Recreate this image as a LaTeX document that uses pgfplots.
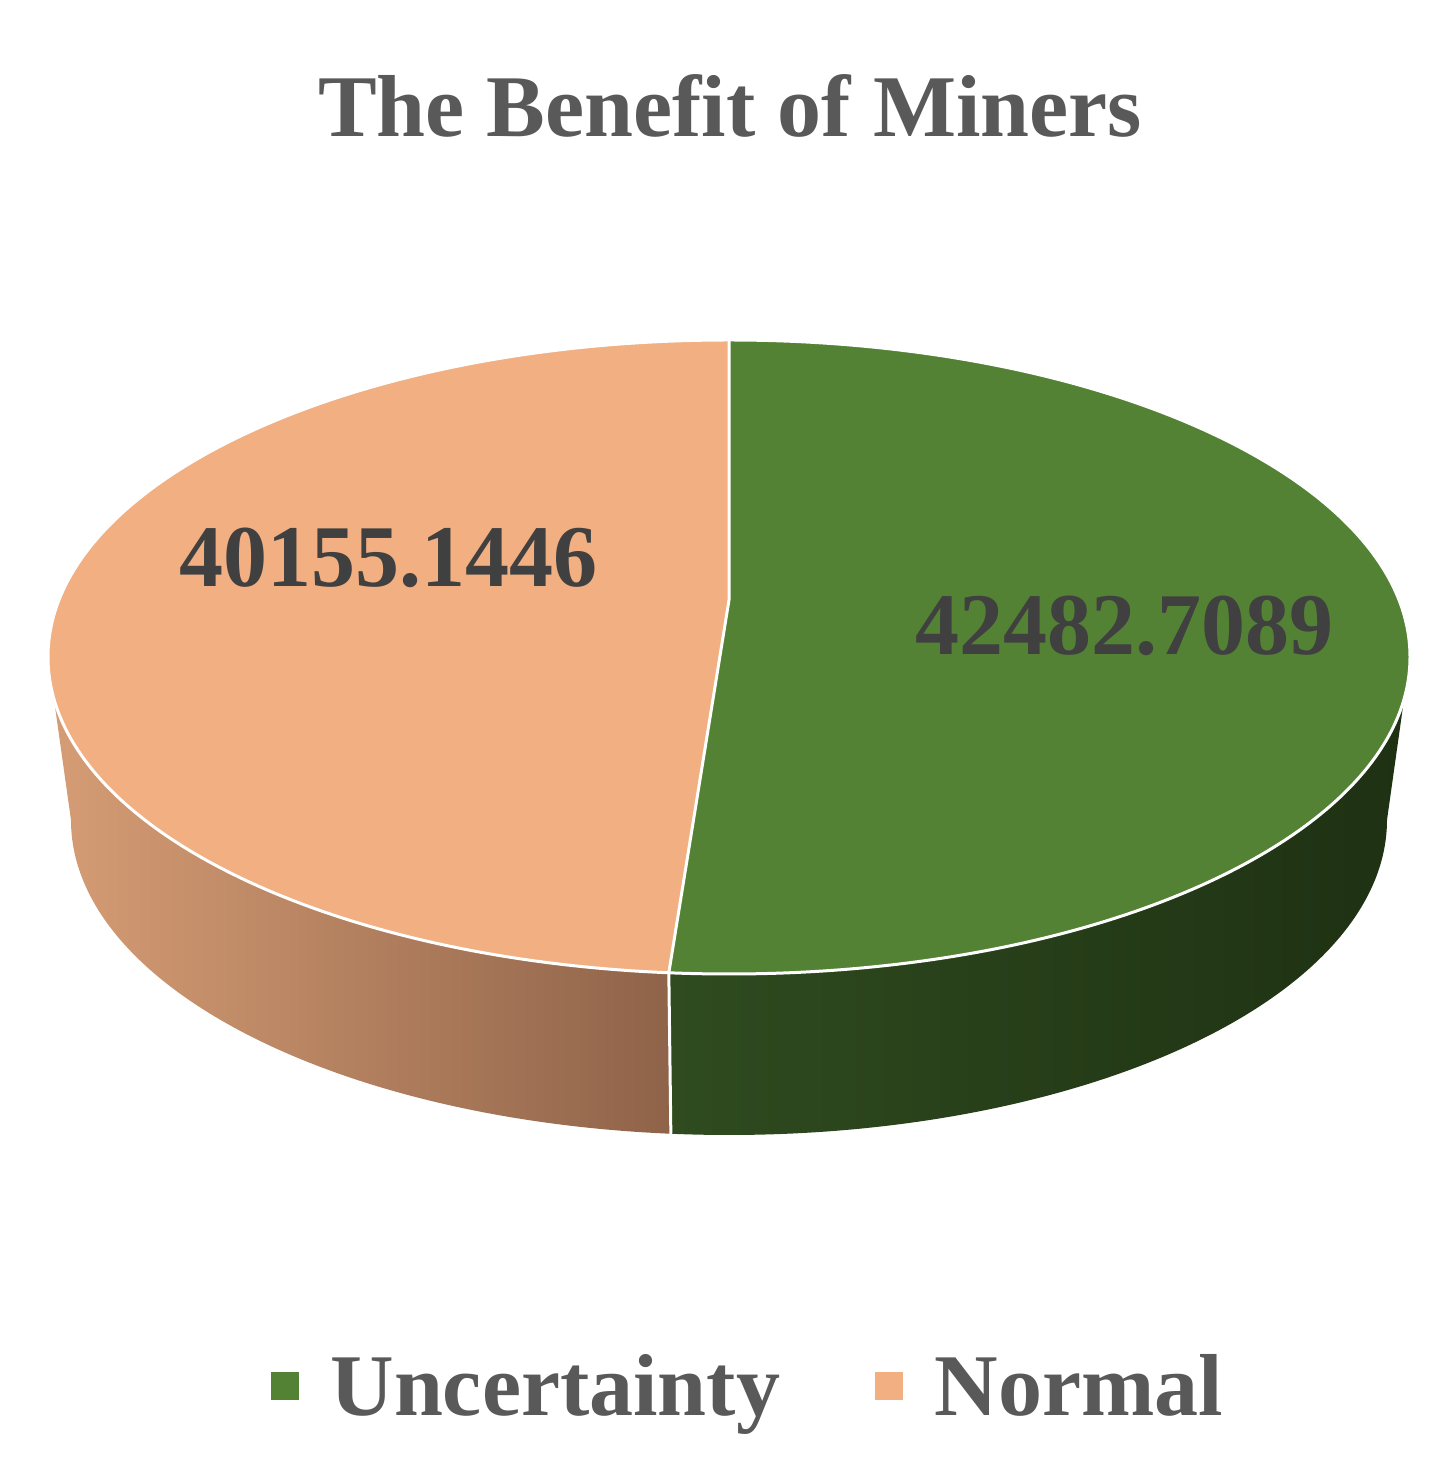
\documentclass[border=0pt]{standalone}
\usepackage{pgfplots}
\pgfplotsset{compat=1.18}
\usepackage{fontspec}
\setmainfont{Liberation Serif}
\definecolor{GreenTop}{HTML}{548235}
\definecolor{OrangeTop}{HTML}{F1AF82}
\definecolor{OrangeSideL}{HTML}{D69D75}
\definecolor{OrangeSideR}{HTML}{8F6349}
\definecolor{GreenSideL}{HTML}{2F4B1F}
\definecolor{GreenSideM}{HTML}{223716}
\definecolor{GreenSideR}{HTML}{1E3113}
\definecolor{TitleGray}{HTML}{595959}
\definecolor{LabelGray}{HTML}{404040}
% values of the two slices
\def\valU{42482.7089}
\def\valN{40155.1446}
% geometry (pt): top ellipse, bottom ellipse, pie centre on top face
\def\cx{729}\def\cy{811}\def\rx{681}\def\ry{317}
\def\bcy{648}\def\brx{658}\def\bry{315}
\def\pcy{868}
\edef\split{\fpeval{90-360*\valU/(\valU+\valN)}}
\edef\splitB{\fpeval{\split+360}}
\edef\xT{\fpeval{\cx+\rx*cosd(\split)}}
\edef\yT{\fpeval{\cy+\ry*sind(\split)}}
\edef\xB{\fpeval{\cx+\brx*cosd(\split)}}
\edef\yB{\fpeval{\bcy+\bry*sind(\split)}}
\edef\xL{\fpeval{\cx-\rx}}\edef\xR{\fpeval{\cx+\rx}}
\edef\bxR{\fpeval{\cx+\brx}}
\edef\ytop{\fpeval{\cy+\ry}}
\begin{document}
\begin{tikzpicture}
\begin{axis}[
  x=1pt,y=1pt,xmin=0,xmax=1445,ymin=0,ymax=1468,
  hide axis,clip=false,
  legend style={at={(axis cs:748,82)},anchor=center,draw=none,fill=none,
    legend columns=2,font=\fontsize{88}{100}\selectfont\bfseries,text=TitleGray,
    /tikz/every odd column/.append style={column sep=30pt},
    /tikz/every even column/.append style={column sep=93pt}},
  legend image code/.code={\fill[#1] (0pt,-13.5pt) rectangle (27pt,13.5pt);}]
\path (axis cs:0,0) rectangle (axis cs:1445,1468);
% sides
\path[left color=OrangeSideL,right color=OrangeSideR]
  (axis cs:\xL,\cy) arc[start angle=180,end angle=\splitB,x radius=\rx pt,y radius=\ry pt]
  -- (axis cs:\xB,\yB) arc[start angle=\splitB,end angle=180,x radius=\brx pt,y radius=\bry pt] -- cycle;
\path[left color=GreenSideL,middle color=GreenSideM,right color=GreenSideR]
  (axis cs:\xT,\yT) arc[start angle=\splitB,end angle=360,x radius=\rx pt,y radius=\ry pt]
  -- (axis cs:\bxR,\bcy) arc[start angle=360,end angle=\splitB,x radius=\brx pt,y radius=\bry pt] -- cycle;
\draw[white,line width=3pt] (axis cs:\xT,\yT) -- (axis cs:\xB,\yB);
% top face
\fill[GreenTop] (axis cs:\cx,\pcy) -- (axis cs:\cx,\ytop)
  arc[start angle=90,end angle=\split,x radius=\rx pt,y radius=\ry pt] -- cycle;
\fill[OrangeTop] (axis cs:\cx,\pcy) -- (axis cs:\cx,\ytop)
  arc[start angle=90,end angle=\splitB,x radius=\rx pt,y radius=\ry pt] -- cycle;
\draw[white,line width=3pt] (axis cs:\cx,\cy) ellipse[x radius=\rx pt,y radius=\ry pt];
\draw[white,line width=3pt] (axis cs:\cx,\ytop) -- (axis cs:\cx,\pcy) -- (axis cs:\xT,\yT);
% texts
\node[anchor=base,text=TitleGray,font=\fontsize{88}{100}\selectfont\bfseries]
  at (axis cs:730,1331) {The Benefit of Miners};
\node[anchor=base,text=LabelGray,font=\fontsize{88}{100}\selectfont\bfseries]
  at (axis cs:388,881) {\valN};
\node[anchor=base,text=LabelGray,font=\fontsize{88}{100}\selectfont\bfseries]
  at (axis cs:1124,813) {\valU};
\addlegendimage{GreenTop}
\addlegendentry{Uncertainty}
\addlegendimage{OrangeTop}
\addlegendentry{Normal}
\end{axis}
\end{tikzpicture}
\end{document}
